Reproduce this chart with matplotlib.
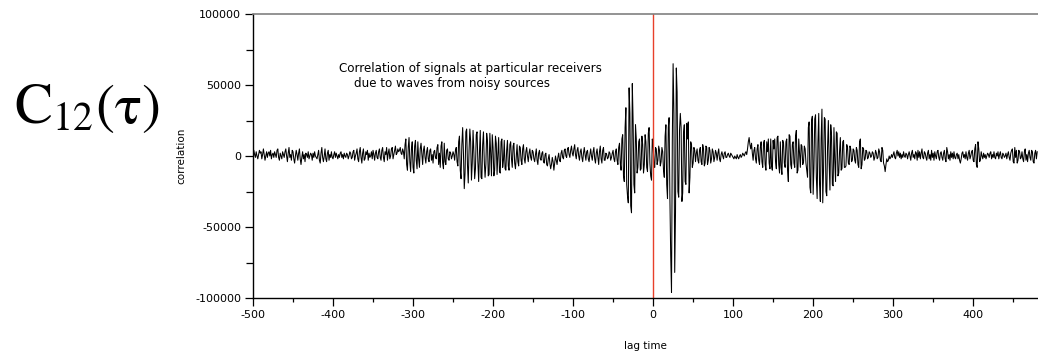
import numpy as np
import matplotlib
matplotlib.use("Agg")
import matplotlib.pyplot as plt
from matplotlib.ticker import MultipleLocator

plt.rcParams["axes.unicode_minus"] = False
plt.rcParams["mathtext.fontset"] = "stix"

# correlation values (in thousands) at integer lag times starting at -500
corr_k = [
    2,4,1,-1,3,0,-2,1,4,2,3,-2,1,5,1,-3,0,3,-1,2,
    3,0,4,-2,1,2,-1,3,1,-1,4,5,-1,-3,2,0,-2,3,1,-1,
    3,5,0,-4,2,6,-1,1,-3,4,3,-2,-5,0,4,1,-3,2,5,-2,
    -6,-1,3,-2,1,-4,2,1,-1,3,-2,0,2,1,-3,2,-1,3,0,-1,
    -2,1,4,-3,-5,2,6,-1,-4,0,5,-2,-4,2,4,-3,1,-1,3,-1,
    -2,1,3,-1,2,0,-2,1,-1,2,3,-1,1,-2,2,0,-1,2,1,-2,
    0,3,2,-2,-1,3,4,-3,0,2,5,-2,-4,3,6,-1,-5,2,5,-3,
    -2,3,1,4,-3,2,-1,0,3,-2,4,1,-3,2,4,-1,-2,3,5,-1,
    -3,4,6,-1,-4,3,1,6,-3,2,5,-2,0,5,6,-2,1,4,7,1,
    2,5,3,4,6,2,1,5,3,-2,8,12,-6,-10,6,13,-4,-11,5,10,
    -8,-12,7,11,-3,-9,10,-2,-8,5,9,1,-6,4,7,-1,-5,3,6,-2,
    -4,4,5,-3,1,-5,3,4,-1,-2,6,8,-6,2,-8,7,10,-5,-9,9,
    -4,-6,4,5,-2,-3,3,2,-2,0,3,1,-3,4,6,-4,-7,10,14,-10,
    -16,8,20,2,-23,-12,17,19,-6,-19,4,19,10,-17,-5,18,3,-16,-9,15,
    17,-4,-18,2,18,-15,-16,8,17,-3,-15,-6,16,11,-14,-13,16,2,-14,15,
    6,-14,-10,14,9,-13,1,13,-11,-12,10,12,-8,-3,11,-9,-10,4,11,-7,
    -10,8,10,-2,-8,7,9,-5,-9,0,8,-4,-7,7,6,-3,-6,5,8,-2,
    -5,3,6,0,-4,2,5,-1,-3,4,3,-2,-4,1,5,-3,-6,2,4,-2,
    -3,2,3,-4,-5,1,2,-6,-7,-2,1,-5,-9,-6,-1,-4,-10,-5,0,-3,
    -6,-1,2,-3,-4,2,4,-1,-2,4,5,0,-1,5,6,1,-1,4,7,2,
    0,5,8,1,-2,4,6,0,-3,3,5,-1,-4,2,6,1,-3,3,4,-2,
    -4,1,5,0,-3,3,6,-2,-5,2,5,-1,-6,3,7,-2,-5,4,6,-3,
    -3,2,1,-2,-1,3,2,-3,-1,2,4,-2,-4,3,5,-3,-6,6,9,-5,
    -10,12,15,-14,-18,20,34,-20,-28,-33,48,30,-35,-40,51,25,-20,-26,22,12,
    -12,-8,10,12,-10,-9,14,8,-12,-6,15,10,-8,-11,16,20,-5,-14,-17,12,
    8,-5,-8,6,5,-6,-3,7,4,-7,-4,6,3,-10,-15,14,22,-20,-30,20,
    27,-30,-70,-96,10,65,30,-82,-40,62,45,-25,-29,18,30,20,-32,-26,16,22,
    -18,-20,23,12,24,-26,-15,10,8,-8,-5,6,4,-4,2,5,-3,-5,4,6,
    -4,-6,8,5,-7,-5,7,6,-6,-3,6,4,-5,-2,5,3,-4,-1,4,2,
    -3,2,5,-2,-4,1,3,0,-2,2,3,-1,-1,1,2,0,-1,2,1,0,
    -1,-2,0,-1,-2,1,-1,-2,0,1,-1,0,2,1,0,2,3,1,5,10,
    13,8,5,9,2,-3,4,6,-2,-5,5,8,-3,-6,6,10,-4,-8,9,11,
    -6,-10,10,3,12,-5,-9,12,-7,-10,11,5,12,-4,-9,13,14,-6,-12,10,
    -8,-13,11,9,-5,-8,10,12,-10,-18,15,14,-6,-9,8,10,-5,-8,14,18,
    -12,-10,12,2,-8,8,7,-6,-4,7,5,-5,-10,-15,20,24,-22,-26,25,28,
    -27,-8,26,29,-15,-30,10,30,-20,-32,12,33,-33,-10,27,26,-25,-28,6,25,
    -4,-24,22,14,-20,-21,20,-3,-18,17,16,-14,-12,3,13,-10,-9,10,11,-8,
    -8,-7,8,6,-5,-6,7,5,-4,-3,5,4,-3,-5,6,4,-6,-8,10,12,
    -9,-6,6,5,-3,-2,4,3,-2,-1,3,2,-1,0,3,2,-3,-1,4,2,
    -2,-1,5,3,-3,-4,6,4,-5,-7,-11,-6,-2,-4,-3,0,-2,-1,1,-1,
    1,3,-1,-2,2,4,0,3,-1,2,-2,1,-1,3,0,-1,2,1,-2,1,
    3,0,-3,2,4,-1,1,-2,3,2,-3,4,-1,3,-2,2,5,-1,-2,3,
    2,-1,-3,2,4,-2,1,-3,4,-1,2,-3,3,0,-2,3,4,-1,-3,2,
    3,-1,-3,2,4,-2,-4,6,3,-2,1,-3,3,-1,2,-2,3,-1,-2,1,
    2,-2,1,-3,-5,-2,2,3,-1,1,-2,3,-1,-3,2,4,-2,0,3,4,
    -3,-4,5,8,-6,-8,10,5,-4,-3,3,0,-2,2,-1,1,-2,0,2,1,
    -1,2,3,-2,1,-1,3,-1,-2,2,0,3,-2,1,3,-1,-2,2,1,-1,
    0,2,-2,1,3,-1,-3,2,4,5,-4,-5,6,-1,4,-5,-3,4,3,-2,
    -1,3,-2,-4,3,5,-3,1,-4,2,4,-1,-3,4,3,-4,-5,2,4,-2,
    3,
]
lag_start = -500
x_ticks = [-500, -400, -300, -200, -100, 0, 100, 200, 300, 400]
y_ticks = [-100000, -50000, 0, 50000, 100000]

lag = lag_start + np.arange(len(corr_k))
corr = np.array(corr_k) * 1000.0

fig = plt.figure(figsize=(10.38, 3.56), dpi=100)
ax = fig.add_axes([253/1038, 1 - 298/356, 1 - 253/1038, (298 - 14)/356])
ax.plot(lag, corr, color="black", lw=0.75)
ax.axvline(0, color="#e8402a", lw=1.0)

ax.set_xlim(-500, 481)
ax.set_ylim(-100000, 100000)
ax.set_xticks(x_ticks)
ax.set_yticks(y_ticks)
ax.xaxis.set_minor_locator(MultipleLocator(50))
ax.yaxis.set_minor_locator(MultipleLocator(25000))
ax.tick_params(axis="both", which="major", direction="out", length=5.5, width=0.9,
               labelsize=8, pad=3)
ax.tick_params(axis="x", which="minor", direction="out", length=3, width=0.9)
ax.tick_params(axis="y", which="minor", direction="out", length=5, width=0.9)
for s in ["left", "bottom"]:
    ax.spines[s].set_linewidth(1.0)
ax.spines["top"].set_color("#808080")
ax.spines["top"].set_linewidth(1.2)
ax.spines["right"].set_visible(False)

ax.set_xlabel("lag time", fontsize=7.5, labelpad=15.5)
ax.set_ylabel("correlation", fontsize=7.5, labelpad=6.5)

ax.text(-393, 56500, "Correlation of signals at particular receivers\n    due to waves from noisy sources",
        fontsize=8.6, va="center", ha="left", linespacing=1.25)

fig.text(14/1038, 1 - 108/356, r"$\mathrm{C_{12}(\tau)}$", fontsize=41,
         ha="left", va="center", family="STIXGeneral")

fig.savefig("out.png", dpi=100)
